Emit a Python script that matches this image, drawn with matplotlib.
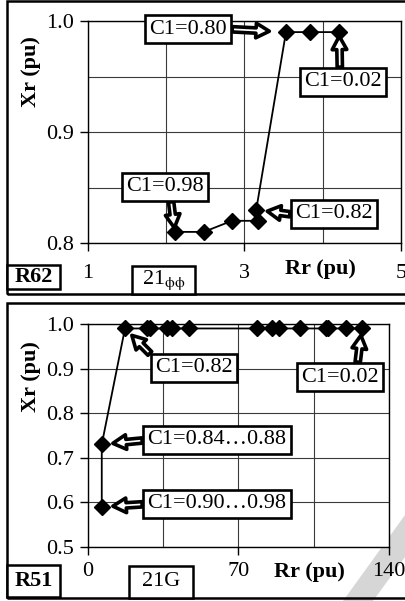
import matplotlib
matplotlib.use("Agg")
import matplotlib.pyplot as plt
from matplotlib.patches import Rectangle, Polygon
from matplotlib.ticker import MultipleLocator, FixedLocator

# ---------------- data ----------------
r62_rr = [2.11, 2.48, 2.84, 3.17, 3.15, 3.53, 3.84, 4.21]
r62_xr = [0.81, 0.81, 0.82, 0.82, 0.83, 0.99, 0.99, 0.99]

r51_rr = [6.4, 6.4, 17.2, 27.3, 28.8, 36.6, 38.9, 47.1, 78.5, 85.4, 89.0,
          98.6, 110.7, 111.8, 120.0, 127.3]
r51_xr = [0.59, 0.73, 0.99, 0.99, 0.99, 0.99, 0.99, 0.99, 0.99, 0.99, 0.99,
          0.99, 0.99, 0.99, 0.99, 0.99]

top_xticks = [1, 3, 5]
top_yticks = [0.8, 0.9, 1.0]
bot_xticks = [0, 70, 140]
bot_yticks = [0.5, 0.6, 0.7, 0.8, 0.9, 1.0]

# ---------------- style ----------------
plt.rcParams['font.family'] = ['Liberation Serif', 'DejaVu Serif']
plt.rcParams['mathtext.fontset'] = 'stix'
FS = 16

W, H = 405, 601
fig = plt.figure(figsize=(W / 100, H / 100), dpi=100)


def fx(x):
    return x / W


def fy(y):
    return 1 - y / H


def make_axes(l, r, t, b):
    return fig.add_axes([fx(l), fy(b), fx(r) - fx(l), fy(t) - fy(b)])


def style_axes(ax, xmaj, xmin_step, ymaj, ymin_step, xpad):
    ax.xaxis.set_major_locator(FixedLocator(xmaj))
    ax.xaxis.set_minor_locator(MultipleLocator(xmin_step))
    ax.yaxis.set_major_locator(FixedLocator(ymaj))
    ax.yaxis.set_minor_locator(MultipleLocator(ymin_step))
    ax.grid(True, which='both', color='#3a3a3a', lw=0.8)
    ax.set_axisbelow(True)
    ax.tick_params(which='major', direction='out', length=6, width=1,
                   labelsize=FS, color='black')
    ax.tick_params(axis='x', which='major', pad=xpad)
    ax.tick_params(axis='y', which='major', pad=4)
    ax.tick_params(which='minor', length=0)
    for s in ax.spines.values():
        s.set_color('black')
        s.set_linewidth(1.0)


def box_label(x0, y0, x1, y1, text, bold=False):
    fig.patches.append(Rectangle((fx(x0), fy(y1)), fx(x1) - fx(x0),
                                 fy(y0) - fy(y1), transform=fig.transFigure,
                                 fill=True, fc='white', ec='black', lw=1.8,
                                 zorder=5))
    fig.text(fx((x0 + x1) / 2), fy((y0 + y1) / 2), text, ha='center',
             va='center', fontsize=FS, fontweight='bold' if bold else 'normal',
             zorder=6)


arrow_kw = dict(arrowstyle='simple,head_length=0.6,head_width=0.66,tail_width=0.24',
                fc='white', ec='black', lw=2.6, shrinkA=0, mutation_scale=FS)
bbox_kw = dict(boxstyle='square,pad=0.2', fc='white', ec='black', lw=1.9)


def note(ax, text, xy, cx, cy, relpos=(0.5, 0.5), shrinkB=4):
    ax.annotate(text, xy=xy, xycoords='data', xytext=(fx(cx), fy(cy)),
                textcoords='figure fraction', ha='center', va='center',
                fontsize=FS, bbox=bbox_kw, zorder=10,
                arrowprops=dict(relpos=relpos, shrinkB=shrinkB, **arrow_kw))


# light grey diagonal band at lower right (behind everything)
fig.patches.append(Polygon([(fx(343), fy(601)), (fx(405), fy(515)),
                            (fx(405), fy(557)), (fx(373), fy(601))],
                           closed=True, transform=fig.transFigure,
                           fc='#d6d6d6', ec='none', zorder=-1))

# ---------------- outer frames ----------------
fig.patches.append(Rectangle((fx(7), fy(294)), fx(420) - fx(7), fy(1) - fy(294),
                             transform=fig.transFigure, fill=False,
                             ec='black', lw=1.8, zorder=4))
fig.patches.append(Rectangle((fx(7), fy(598)), fx(420) - fx(7), fy(303) - fy(598),
                             transform=fig.transFigure, fill=False,
                             ec='black', lw=1.8, zorder=4))

# ---------------- top panel (R62) ----------------
ax1 = make_axes(88, 401, 21, 243)
ax1.set_xlim(1, 5)
ax1.set_ylim(0.8, 1.0)
style_axes(ax1, top_xticks, 1, top_yticks, 0.05, xpad=9)
ax1.set_yticklabels([f'{v:.1f}' for v in top_yticks])
ax1.plot(r62_rr, r62_xr, color='black', lw=1.3, marker='D', ms=8.5,
         mfc='black', mec='black', zorder=3, clip_on=False)

note(ax1, 'C1=0.80', (r62_rr[5], r62_xr[5]), 188, 29, relpos=(1, 0.5), shrinkB=12)
note(ax1, 'C1=0.02', (r62_rr[7], r62_xr[7]), 343, 82, relpos=(0.46, 1), shrinkB=3)
note(ax1, 'C1=0.98', (r62_rr[0], r62_xr[0]), 165, 187, relpos=(0.57, 0), shrinkB=3)
note(ax1, 'C1=0.82', (r62_rr[4], r62_xr[4]), 334, 214, relpos=(0, 0.45), shrinkB=8)

fig.text(fx(31), fy(72), 'Xr (pu)', rotation=90, ha='center', va='center',
         fontsize=FS, fontweight='bold')
fig.text(fx(320), fy(269), 'Rr (pu)', ha='center', va='center',
         fontsize=FS, fontweight='bold')
box_label(7, 265, 60, 289, 'R62', bold=True)
box_label(132, 266, 195, 294, r'21$_{\mathrm{\phi\phi}}$')

# ---------------- bottom panel (R51) ----------------
ax2 = make_axes(88, 389, 324, 547)
ax2.set_xlim(0, 140)
ax2.set_ylim(0.5, 1.0)
style_axes(ax2, bot_xticks, 35, bot_yticks, 0.1, xpad=5)
ax2.set_yticklabels([f'{v:.1f}' for v in bot_yticks])
ax2.plot(r51_rr, r51_xr, color='black', lw=1.3, marker='D', ms=8.5,
         mfc='black', mec='black', zorder=3, clip_on=False)

note(ax2, 'C1=0.82', (r51_rr[2], r51_xr[2]), 194, 368, relpos=(0.02, 0.9), shrinkB=7)
note(ax2, 'C1=0.02', (r51_rr[-1], r51_xr[-1]), 340, 377, relpos=(0.72, 1), shrinkB=5)
note(ax2, 'C1=0.84\u20260.88', (r51_rr[1], r51_xr[1]), 217, 440, relpos=(0, 0.5), shrinkB=8)
note(ax2, 'C1=0.90\u20260.98', (r51_rr[0], r51_xr[0]), 217, 504, relpos=(0, 0.5), shrinkB=8)

fig.text(fx(31), fy(377), 'Xr (pu)', rotation=90, ha='center', va='center',
         fontsize=FS, fontweight='bold')
fig.text(fx(309), fy(572), 'Rr (pu)', ha='center', va='center',
         fontsize=FS, fontweight='bold')
box_label(7, 565, 60, 597, 'R51', bold=True)
box_label(129, 566, 193, 598, '21G')

fig.savefig('out.png', dpi=100)
